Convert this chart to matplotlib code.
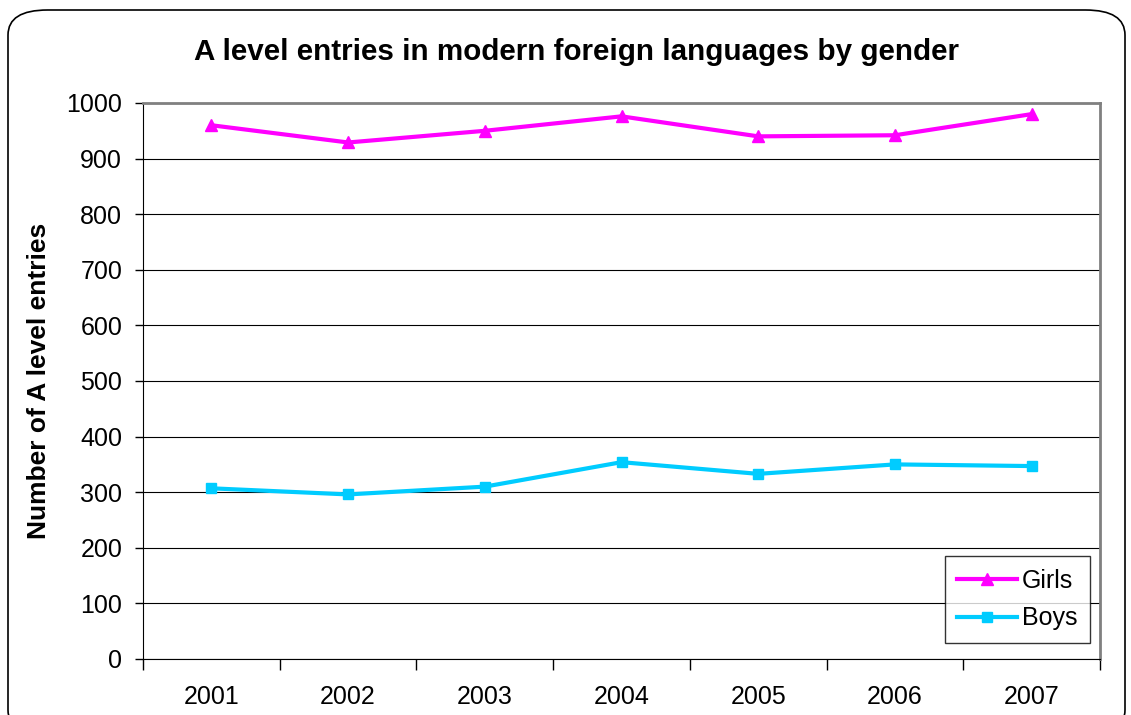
import matplotlib
matplotlib.use("Agg")
import matplotlib.pyplot as plt
from matplotlib.patches import FancyBboxPatch
import numpy as np

plt.rcParams['font.family'] = ['Liberation Sans', 'DejaVu Sans']

years = ["2001", "2002", "2003", "2004", "2005", "2006", "2007"]
girls = [960, 929, 950, 976, 940, 942, 980]
boys = [307, 296, 310, 354, 333, 350, 347]
yticks = [0, 100, 200, 300, 400, 500, 600, 700, 800, 900, 1000]

W, H = 1131, 715
fig = plt.figure(figsize=(W / 100, H / 100), dpi=100)

# rounded outer border
box = FancyBboxPatch((8 / W, -20 / H), (1117) / W, (725) / H,
                     boxstyle="round,pad=0,rounding_size=0.035",
                     transform=fig.transFigure, fill=False,
                     edgecolor='black', linewidth=1.2)
fig.patches.append(box)

ax = fig.add_axes([143 / W, 1 - 659 / H, (1100 - 143) / W, (659 - 103) / H])
x = np.arange(len(years))
ax.plot(x, girls, color='#FF00FF', lw=3, marker='^', ms=9, label='Girls')
ax.plot(x, boys, color='#00CCFF', lw=3, marker='s', ms=7, label='Boys')

ax.set_xlim(-0.5, len(years) - 0.5)
ax.set_ylim(0, 1000)
ax.set_yticks(yticks)
ax.set_yticklabels([str(v) for v in yticks], fontsize=18)
ax.set_xticks(x)
ax.set_xticklabels(years, fontsize=18)
ax.tick_params(axis='x', length=0, pad=19)
ax.set_xticks(np.arange(-0.5, len(years), 1), minor=True)
ax.tick_params(axis='x', which='minor', length=8, width=1, direction='out', color='black')
ax.tick_params(axis='y', length=6, width=1, direction='out', pad=9, color='black')
ax.grid(axis='y', color='black', lw=0.8)
ax.set_axisbelow(True)
for s in ['top', 'right']:
    ax.spines[s].set_color('#808080')
    ax.spines[s].set_linewidth(2)
ax.spines['left'].set_color('black')
ax.spines['bottom'].set_color('black')

ax.set_ylabel('Number of A level entries', fontsize=19, fontweight='bold', labelpad=11)
fig.text(577 / W, 1 - 52 / H, 'A level entries in modern foreign languages by gender',
         ha='center', va='center', fontsize=21.3, fontweight='bold')

leg = ax.legend(loc='lower right', bbox_to_anchor=((1090 - 143) / 957, 16 / 556), fontsize=18,
                frameon=True, fancybox=False, edgecolor='black', handlelength=2.4,
                borderpad=0.5, labelspacing=0.55, handletextpad=0.2, borderaxespad=0)
leg.get_frame().set_linewidth(1)

fig.savefig('out.png', dpi=100)
